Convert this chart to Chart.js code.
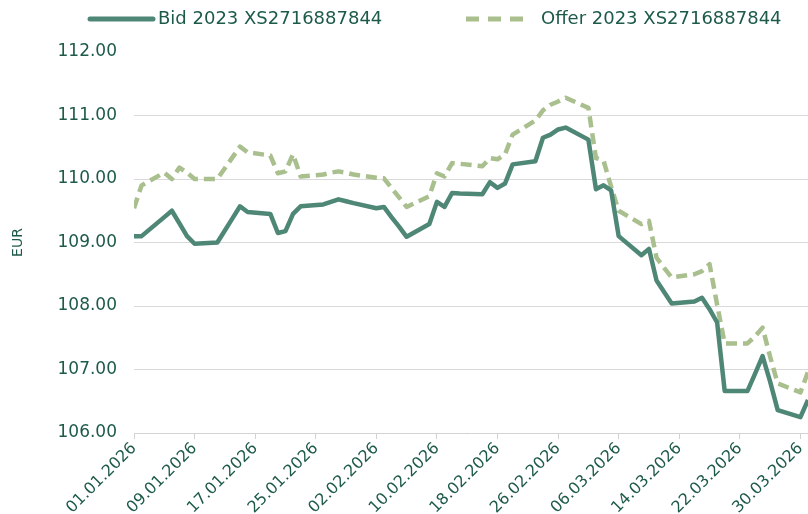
<!DOCTYPE html>
<html>
<head>
<meta charset="utf-8">
<script src="https://cdn.jsdelivr.net/npm/chart.js"></script>
<style>
  html, body { margin: 0; padding: 0; background: #ffffff; }
  canvas { display: block; }
</style>
</head>
<body>
<canvas id="grafica" width="808" height="514"></canvas>
<script>
	// Fechas (días hábiles) y cotizaciones
	const fechas = [
		'01.01.2026','02.01.2026','05.01.2026','06.01.2026','07.01.2026','08.01.2026','09.01.2026',
		'12.01.2026','13.01.2026','14.01.2026','15.01.2026','16.01.2026',
		'19.01.2026','20.01.2026','21.01.2026','22.01.2026','23.01.2026',
		'26.01.2026','27.01.2026','28.01.2026','29.01.2026','30.01.2026',
		'02.02.2026','03.02.2026','04.02.2026','05.02.2026','06.02.2026',
		'09.02.2026','10.02.2026','11.02.2026','12.02.2026','13.02.2026',
		'16.02.2026','17.02.2026','18.02.2026','19.02.2026','20.02.2026',
		'23.02.2026','24.02.2026','25.02.2026','26.02.2026','27.02.2026',
		'02.03.2026','03.03.2026','04.03.2026','05.03.2026','06.03.2026',
		'09.03.2026','10.03.2026','11.03.2026','12.03.2026','13.03.2026',
		'16.03.2026','17.03.2026','18.03.2026','19.03.2026','20.03.2026',
		'23.03.2026','24.03.2026','25.03.2026','26.03.2026','27.03.2026',
		'30.03.2026','31.03.2026'
	];

	const bid = [
		109.10, 109.10, 109.40, 109.50, 109.30, 109.10, 108.98,
		109.00, 109.19, 109.38, 109.57, 109.48,
		109.45, 109.15, 109.18, 109.45, 109.57,
		109.60, 109.64, 109.68, 109.65, 109.62,
		109.54, 109.56, 109.40, 109.25, 109.09,
		109.29, 109.64, 109.56, 109.78, 109.77,
		109.76, 109.95, 109.86, 109.93, 110.23,
		110.28, 110.65, 110.70, 110.78, 110.81,
		110.62, 109.84, 109.90, 109.82, 109.10,
		108.80, 108.90, 108.40, 108.22, 108.04,
		108.07, 108.13, 107.95, 107.74, 106.66,
		106.66, 106.93, 107.21, 106.81, 106.36,
		106.25, 106.52
	];

	const offer = [
		109.54, 109.90, 110.10, 110.00, 110.18, 110.10, 110.00,
		110.00, 110.17, 110.34, 110.51, 110.42,
		110.37, 110.09, 110.12, 110.39, 110.04,
		110.07, 110.10, 110.12, 110.10, 110.07,
		110.02, 110.01, 109.86, 109.71, 109.56,
		109.73, 110.09, 110.04, 110.25, 110.24,
		110.20, 110.33, 110.31, 110.39, 110.70,
		110.92, 111.08, 111.17, 111.22, 111.28,
		111.12, 110.33, 110.29, 109.88, 109.50,
		109.29, 109.34, 108.76, 108.60, 108.45,
		108.50, 108.55, 108.66, 108.02, 107.41,
		107.41, 107.52, 107.66, 107.20, 106.78,
		106.64, 106.96
	];

	// Etiquetas del eje X (cada 8 días)
	const etiquetasX = [
		'01.01.2026','09.01.2026','17.01.2026','25.01.2026','02.02.2026','10.02.2026',
		'18.02.2026','26.02.2026','06.03.2026','14.03.2026','22.03.2026','30.03.2026'
	];

	const nombres = ['Bid 2023 XS2716887844', 'Offer 2023 XS2716887844'];

	const COLOR_BID = '#4e8775';
	const COLOR_OFFER = '#a9bf8e';
	const COLOR_TEXTO = '#1d5a4a';
	const FUENTE = '"DejaVu Sans", sans-serif';

	// día desde el 01.01.2026
	function diaIndice(s) {
		const [d, m, y] = s.split('.').map(Number);
		return Math.round((Date.UTC(y, m - 1, d) - Date.UTC(2026, 0, 1)) / 864e5);
	}

	const puntosBid = fechas.map((f, i) => ({ x: diaIndice(f), y: bid[i] }));
	const puntosOffer = fechas.map((f, i) => ({ x: diaIndice(f), y: offer[i] }));

	// leyenda propia arriba
	const leyendaPlugin = {
		id: 'leyendaPropia',
		afterDraw: (chart) => {
			const ctx = chart.ctx;
			ctx.save();
			ctx.font = '18px ' + FUENTE;
			ctx.textBaseline = 'middle';
			const y = 19;

			ctx.lineWidth = 5;
			ctx.strokeStyle = COLOR_BID;
			ctx.lineCap = 'round';
			ctx.beginPath();
			ctx.moveTo(90, y); ctx.lineTo(153, y);
			ctx.stroke();
			ctx.fillStyle = COLOR_TEXTO;
			ctx.fillText(nombres[0], 158, y);

			ctx.strokeStyle = COLOR_OFFER;
			ctx.setLineDash([13, 9]);
			ctx.lineCap = 'butt';
			ctx.beginPath();
			ctx.moveTo(466, y); ctx.lineTo(527, y);
			ctx.stroke();
			ctx.setLineDash([]);
			ctx.fillText(nombres[1], 541, y);
			ctx.restore();
		}
	};

	new Chart(document.getElementById('grafica'), {
		type: 'line',
		data: {
			datasets: [
				{
					label: nombres[0],
					data: puntosBid,
					borderColor: COLOR_BID,
					borderWidth: 4.5,
					pointRadius: 0,
					tension: 0,
					borderJoinStyle: 'round',
					fill: false
				},
				{
					label: nombres[1],
					data: puntosOffer,
					borderColor: COLOR_OFFER,
					borderWidth: 4.5,
					borderDash: [11, 6],
					pointRadius: 0,
					tension: 0,
					borderJoinStyle: 'round',
					fill: false
				}
			]
		},
		options: {
			responsive: false,
			animation: false,
			devicePixelRatio: 1,
			layout: { padding: { top: 52, right: 0, bottom: 0, left: 0 } },
			plugins: {
				legend: { display: false },
				tooltip: { enabled: false }
			},
			scales: {
				x: {
					type: 'linear',
					min: 0,
					max: 89,
					afterFit: (s) => { s.height = 81; s.paddingRight = 0; s.paddingLeft = 0; },
					border: { display: true, color: '#d3d3d3', width: 1 },
					grid: {
						drawOnChartArea: false,
						drawTicks: true,
						tickLength: 6,
						color: '#d3d3d3'
					},
					ticks: {
						stepSize: 8,
						includeBounds: false,
						autoSkip: false,
						minRotation: 45,
						maxRotation: 45,
						padding: 0,
						color: COLOR_TEXTO,
						font: { family: FUENTE, size: 16 },
						callback: (v) => etiquetasX[v / 8] || ''
					}
				},
				y: {
					min: 106,
					max: 112,
					afterFit: (s) => { s.width = 134; },
					border: { display: false },
					grid: {
						drawTicks: false,
						color: (c) => (c.tick && (c.tick.value === 112 || c.tick.value === 106)) ? 'rgba(0,0,0,0)' : '#d9d9d9',
						lineWidth: 1
					},
					ticks: {
						stepSize: 1,
						padding: 17,
						color: COLOR_TEXTO,
						font: { family: FUENTE, size: 17 },
						callback: (v) => v.toFixed(2)
					},
					title: {
						display: true,
						text: 'EUR',
						color: COLOR_TEXTO,
						font: { family: FUENTE, size: 14 },
						padding: { top: 10, bottom: 0 }
					}
				}
			}
		},
		plugins: [leyendaPlugin]
	});
</script>
</body>
</html>
